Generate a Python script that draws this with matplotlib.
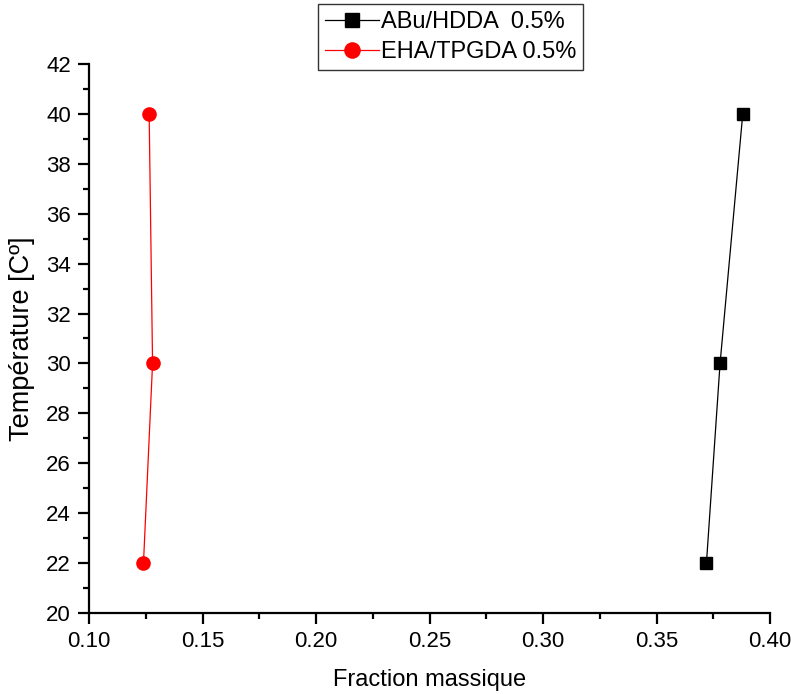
import matplotlib
matplotlib.use('Agg')
import matplotlib.pyplot as plt
from matplotlib.ticker import MultipleLocator, FormatStrFormatter

plt.rcParams['font.family'] = ['Liberation Sans', 'DejaVu Sans']

# mass fraction vs temperature for both systems
temp = [22, 30, 40]
abu_hdda = [0.372, 0.378, 0.388]
eha_tpgda = [0.124, 0.128, 0.1265]

fig = plt.figure(figsize=(7.91, 6.94), dpi=100)
ax = fig.add_axes([89 / 791, 81 / 694, 681 / 791, 549 / 694])

ax.plot(abu_hdda, temp, color='black', lw=0.9, marker='s', ms=8.5,
        label='ABu/HDDA  0.5%')
ax.plot(eha_tpgda, temp, color='red', lw=0.9, marker='o', ms=9.5,
        label='EHA/TPGDA 0.5%')

ax.set_xlim(0.10, 0.40)
ax.set_ylim(20, 42)
ax.xaxis.set_major_locator(MultipleLocator(0.05))
ax.xaxis.set_minor_locator(MultipleLocator(0.025))
ax.yaxis.set_major_locator(MultipleLocator(2))
ax.yaxis.set_minor_locator(MultipleLocator(1))
ax.xaxis.set_major_formatter(FormatStrFormatter('%.2f'))

for side in ['top', 'right']:
    ax.spines[side].set_visible(False)
for side in ['left', 'bottom']:
    ax.spines[side].set_linewidth(1.6)
ax.tick_params(which='major', direction='out', length=8, width=1.6,
               labelsize=16, pad=5)
ax.tick_params(which='minor', direction='out', length=4.5, width=1.6)

ax.set_xlabel('Fraction massique', fontsize=17, labelpad=12)
ax.set_ylabel('Température [Cº]', fontsize=19.5, labelpad=8)

leg = ax.legend(loc='upper left', bbox_to_anchor=(318 / 791, 690 / 694),
                bbox_transform=fig.transFigure, fontsize=17, frameon=True,
                fancybox=False, edgecolor='black', handlelength=2.3,
                handletextpad=0.05, borderpad=0.3, labelspacing=0.35,
                borderaxespad=0, markerscale=1.15)
leg.get_frame().set_linewidth(1.0)

fig.savefig('out.png', dpi=100)
